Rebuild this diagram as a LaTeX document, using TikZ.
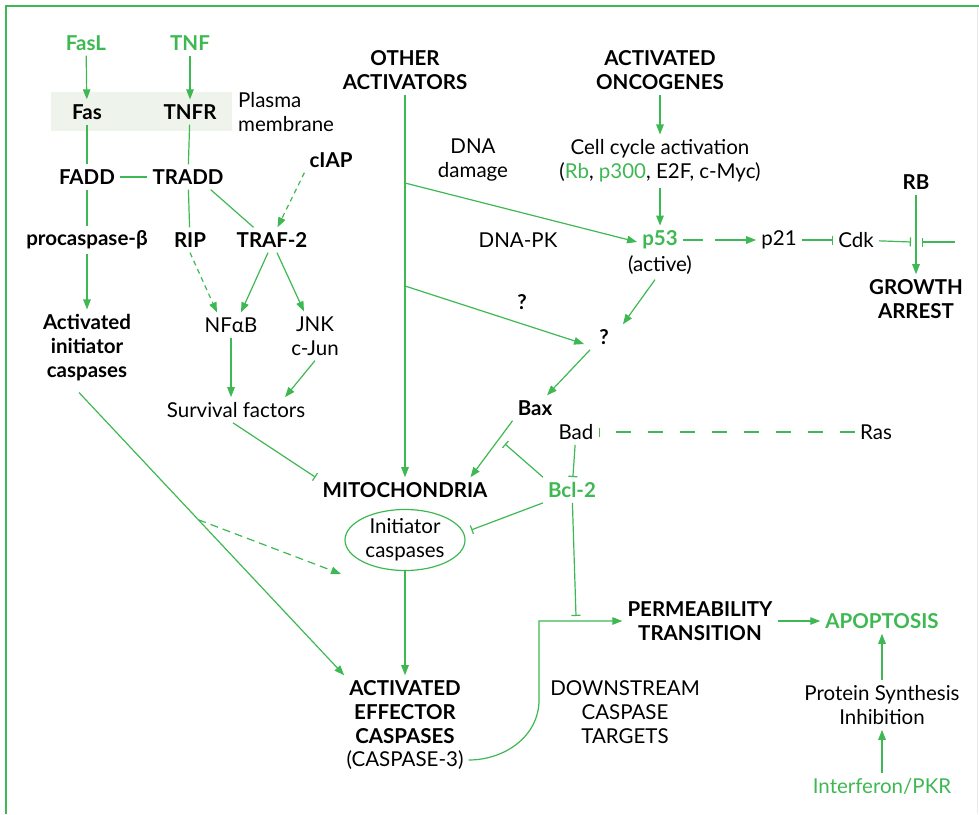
\documentclass[tikz,border=0pt]{standalone}
\usepackage{fontspec}
\setmainfont{Lato}
\usepackage{tikz}
\usetikzlibrary{arrows.meta,positioning,shapes.geometric,calc}
\usepackage{xcolor}
\definecolor{apgreen}{RGB}{62,184,82}
\definecolor{membr}{RGB}{238,244,236}
\newcommand{\gr}[1]{\textcolor{apgreen}{#1}}

\begin{document}
\begin{tikzpicture}[x=1pt,y=-1pt, every node/.style={font=\fontsize{20.5}{24}\selectfont,
  inner sep=5pt,align=center}, key/.style={font=\fontsize{20.5}{24}\selectfont\bfseries},
  hit/.style={key,text=apgreen}, soft/.style={text=apgreen},
  edge/.style={apgreen,line width=1.2pt,-{Triangle[length=10pt,width=7.5pt]}},
  link/.style={apgreen,line width=1.2pt}, inhib/.style={link,-{Bar[width=9pt]}},
  dashedge/.style={edge,dash pattern=on 5pt off 4pt}]
  \useasboundingbox (0,0) rectangle (979,814);
  \draw[link,line width=1.6pt] (6,814) -- (6,6) -- (979,6); \draw[black!8] (977,8) -- (977,814);
  \fill[membr] (51,92) rectangle (232,131);
  % receptor side
  \node[hit] (fasl) at (86,43) {FasL}; \node[hit] (tnf) at (190,43) {TNF};
  \node[key] (fas) at (87,112) {Fas}; \node[key] (tnfr) at (190,112) {TNFR};
  \node[align=left,anchor=west] (plasma) at (233,112) {Plasma\\membrane};
  \node[key] (fadd) at (87,177) {FADD}; \node[key] (tradd) at (188,177) {TRADD};
  \node[key] (ciap) at (331,160) {cIAP}; \node[key] (procasp) at (87,240)
  {procaspase-β}; \node[key] (rip) at (190,240) {RIP}; \node[key] (traf) at
  (272,240) {TRAF-2}; \node (nfab) at (231,325) {NFαB}; \node (jnk) at (315,336)
  {JNK\\c-Jun}; \node[key] (aic) at (87,348) {Activated\\initiator\\caspases};
  \node (surv) at (236,410) {Survival factors};
  \draw[edge] (fasl) -- (fas); \draw[edge] (tnf) -- (tnfr); \draw[link] (fas) --
  (fadd); \draw[link] (tnfr) -- (tradd); \draw[link] (fadd) -- (tradd); \draw[link]
  (fadd) -- (procasp); \draw[link] (tradd) -- (rip); \draw[link]
  ([xshift=-18pt]tradd.south east) -- ([xshift=22pt]traf.north west);
  \draw[dashedge] (ciap.south west) -- ([xshift=46pt]traf.north west);
  \draw[edge] (procasp) -- (aic); \draw[dashedge] (rip.south) -- ([xshift=-14pt]nfab.north);
  \draw[edge] ([xshift=-4pt]traf.south) -- ([xshift=10pt]nfab.north); \draw[edge]
  ([xshift=5pt]traf.south) -- ([xshift=-11pt]jnk.north); \draw[edge] (nfab) --
  ([xshift=-5pt]surv.north); \draw[edge] (jnk.south) -- ([xshift=49pt]surv.north);
  % p53 branch
  \node[key] (other) at (405,70) {OTHER\\ACTIVATORS}; \node[key] (onco) at (660,70)
  {ACTIVATED\\ONCOGENES}; \node (dnad) at (473,160) {DNA\\damage}; \node (cyc) at
  (660,161) {Cell cycle activation\\(\gr{Rb}, \gr{p300}, E2F, c-Myc)}; \node (dnapk)
  at (518,240) {DNA-PK}; \node[hit] (p53) at (660,240) {p53}; \node (active) at
  (660,265) {(active)}; \node (p21) at (779,240) {p21}; \node (cdk) at (856,240)
  {Cdk}; \node[key] (rb) at (916,182) {RB}; \node[key] (arrest) at (916,299)
  {GROWTH\\ARREST}; \node[key] (qa) at (522,302) {?}; \node[key] (qb) at (604,337)
  {?}; \node[key] (bax) at (535,408) {Bax}; \node (bad) at (576,432) {Bad}; \node
  (ras) at (876,432) {Ras};
  \coordinate (br1) at (405,183); \coordinate (br2) at (405,286); \coordinate (rbl)
  at (911,242); \coordinate (rbr) at (922,242); \coordinate (rbfree) at (955,242);
  \draw[edge] (onco) -- (cyc); \draw[edge] (cyc) -- (p53); \draw[edge] (br1) --
  ([yshift=-2pt]p53.west); \draw[edge] (br2) -- ([xshift=-10pt,yshift=-7pt]qb.west);
  \draw[edge,dash pattern=on 20pt off 12pt on 60pt] (p53) -- (p21); \draw[inhib]
  (p21) -- (cdk); \draw[inhib] (cdk) -- (rbl); \draw[inhib] (rbfree) -- (rbr);
  \draw[edge] (rb) -- (arrest); \draw[edge] ([xshift=-5pt]active.south) --
  ([xshift=9pt]qb.north east); \draw[edge] ([xshift=-4pt]qb.south west) --
  ([xshift=12pt]bax.north);
  % mitochondria and caspases
  \node[key] (mito) at (405,490) {MITOCHONDRIA}; \node[hit] (bcl) at (572,490)
  {Bcl-2}; \node[ellipse,draw=apgreen,line width=1.2pt,minimum width=120pt,minimum
  height=61pt,inner sep=0pt] (inic) at (405,540) {Initiator\\caspases};
  \node[key] (aec) at (405,712) {ACTIVATED\\EFFECTOR\\CASPASES}; \node (casp3) at
  (405,760) {(CASPASE-3)}; \node[key] (perm) at (700,621) {PERMEABILITY\\TRANSITION};
  \node (downs) at (625,712) {DOWNSTREAM\\CASPASE\\TARGETS}; \node[hit] (apop) at
  (882,621) {APOPTOSIS}; \node (psi) at (882,705) {Protein Synthesis\\Inhibition};
  \node[soft] (ifn) at (882,786) {Interferon/PKR};
  \coordinate (aicend) at ([xshift=-8pt,yshift=-6pt]aic.south); \coordinate (aicx)
  at ($(aicend)!0.45!(aec.north west)$); \coordinate (baxm) at (505,444);
  \coordinate (pbar) at (576,616); \coordinate (bend) at (539,700);
  \draw[edge] (other) -- (mito); \draw[inhib] ([xshift=-3pt]surv.south) --
  ([xshift=-2pt]mito.north west); \draw[edge] (bax.south west) --
  ([xshift=-22pt]mito.north east); \draw[inhib] (bcl.north west) -- (baxm);
  \draw[inhib, dash pattern=on 15pt off 17pt] (ras) -- (bad); \draw[inhib] (bad)
  -- (bcl); \draw[inhib] (bcl.south west) -- ([xshift=9pt]inic.10); \draw[inhib] (bcl) --
  (pbar); \draw[edge] (inic) -- (aec); \draw[edge] (aicend) -- (aec.north west);
  \draw[edge,dash pattern=on 8pt off 5pt] (aicx) -- (341,574); \draw[edge]
  (casp3.east) to[out=0,in=-90] (bend) |- (perm.west); \draw[edge] (perm) --
  (apop); \draw[edge] (psi) -- (apop); \draw[edge] (ifn) -- (psi);
\end{tikzpicture}
\end{document}
